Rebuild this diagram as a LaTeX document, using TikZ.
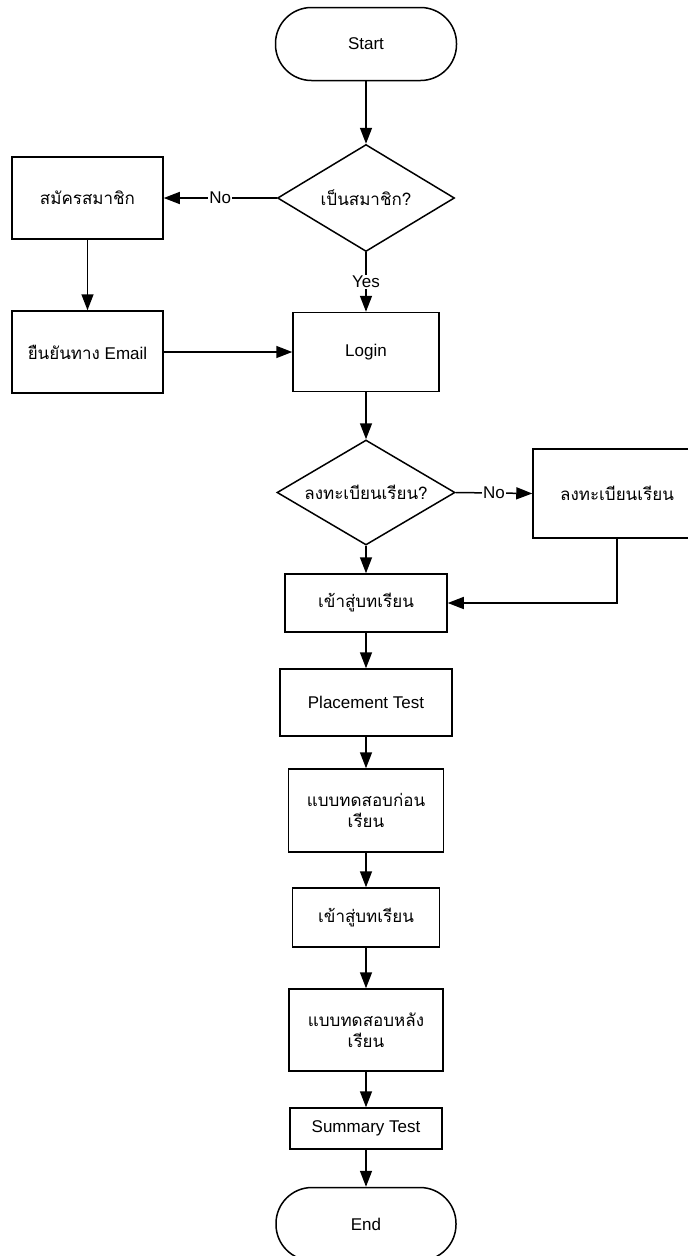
\documentclass[tikz,border=0pt]{standalone}
\usepackage{fontspec}
\setmainfont{Liberation Sans}
\newfontfamily\thaifont[Script=Thai]{Loma}
\usetikzlibrary{shapes.geometric,arrows.meta}
\begin{document}
\begin{tikzpicture}[x=1pt,y=-1pt,
  base/.style={draw, line width=1.5pt, font=\fontsize{17}{21}\selectfont, inner sep=0pt, align=center},
  box/.style={base, rectangle},
  term/.style={base, rectangle, rounded corners=36pt},
  dec/.style={base, diamond, shape aspect=1.65},
  arr/.style={line width=1.5pt, -{Triangle[length=16pt,width=12pt]}},
  lab/.style={fill=white, inner sep=1pt, font=\fontsize{17}{21}\selectfont}]
\useasboundingbox (0,0) rectangle (688,1256);
\fill[white] (0,0) rectangle (688,1256);

\node[term, minimum width=181pt, minimum height=73pt] (start) at (366,44) {Start};
\node[dec, minimum width=177pt, minimum height=107pt] (d1) at (366,198) {\thaifont เป็นสมาชิก?};
\node[box, minimum width=151pt, minimum height=82pt] (reg) at (87.5,198) {\thaifont สมัครสมาชิก};
\node[box, minimum width=151pt, minimum height=82pt] (email) at (87.5,352) {{\thaifont ยืนยันทาง} Email};
\node[box, minimum width=146pt, minimum height=79pt] (login) at (366,352) {Login};
\node[dec, minimum width=178pt, minimum height=105pt] (d2) at (366,492.5) {\thaifont ลงทะเบียนเรียน?};
\node[box, minimum width=168pt, minimum height=89pt] (enroll) at (617,493.5) {\thaifont ลงทะเบียนเรียน};
\node[box, minimum width=162pt, minimum height=58pt] (les1) at (366,603) {\thaifont เข้าสู่บทเรียน};
\node[box, minimum width=172pt, minimum height=67pt] (place) at (366,702.5) {Placement Test};
\node[box, minimum width=155pt, minimum height=83pt] (pre) at (366,810.5) {\thaifont แบบทดสอบก่อน\\\thaifont เรียน};
\node[box, minimum width=147pt, minimum height=59pt] (les2) at (366,917.5) {\thaifont เข้าสู่บทเรียน};
\node[box, minimum width=154pt, minimum height=82pt] (post) at (366,1030) {\thaifont แบบทดสอบหลัง\\\thaifont เรียน};
\node[box, minimum width=152pt, minimum height=41pt] (sum) at (366,1128.5) {Summary Test};
\node[term, minimum width=180pt, minimum height=73pt] (end) at (366,1224) {End};

\draw[arr] (start) -- (d1);
\draw[arr] (d1.west) -- node[lab]{No} (reg.east);
\draw[arr] (reg) -- (email);
\draw[arr] (email) -- (login);
\draw[arr] (d1.south) -- node[lab]{Yes} (login.north);
\draw[arr] (login) -- (d2);
\draw[arr] (d2.east) -- node[lab]{No} (enroll.west);
\draw[arr] (enroll.south) |- (les1.east);
\draw[arr] (d2.south) -- (les1.north);
\draw[arr] (les1) -- (place);
\draw[arr] (place) -- (pre);
\draw[arr] (pre) -- (les2);
\draw[arr] (les2) -- (post);
\draw[arr] (post) -- (sum);
\draw[arr] (sum) -- (end);
\end{tikzpicture}
\end{document}
